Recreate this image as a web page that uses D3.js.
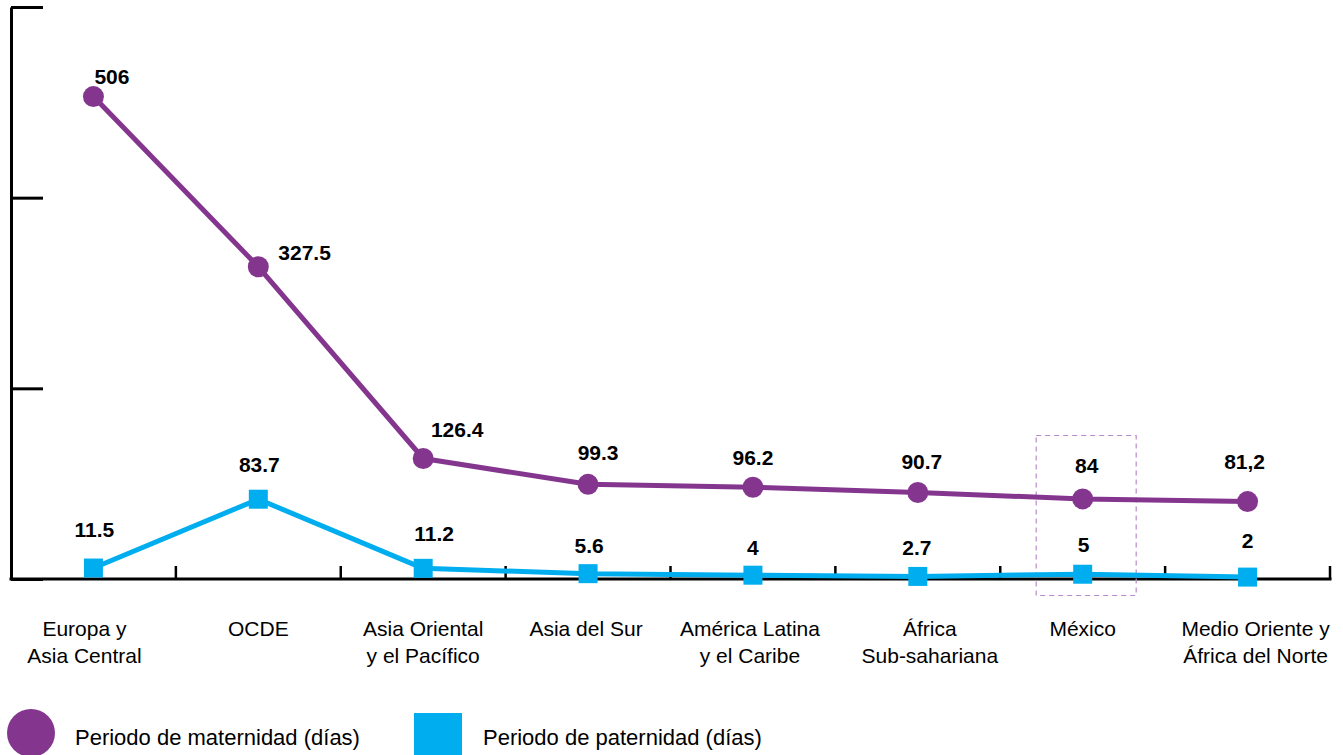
<!DOCTYPE html>
<html lang="es">
<head>
<meta charset="utf-8">
<title>Periodos de maternidad y paternidad por región</title>
<script src="https://cdn.jsdelivr.net/npm/d3@7"></script>
<style>
  html, body { margin: 0; padding: 0; background: #ffffff; }
  svg { display: block; font-family: "Liberation Sans", Arial, Helvetica, sans-serif; }
</style>
</head>
<body>
<svg id="chart" width="1343" height="755"></svg>
<script>
// Regions (each label may wrap onto two lines)
const categories = [
  ["Europa y", "Asia Central"],
  ["OCDE"],
  ["Asia Oriental", "y el Pacífico"],
  ["Asia del Sur"],
  ["América Latina", "y el Caribe"],
  ["África", "Sub-sahariana"],
  ["México"],
  ["Medio Oriente y", "África del Norte"]
];
const categoryKeys = categories.map(c => c.join(" "));

// Leave periods in days
const maternity = [506, 327.5, 126.4, 99.3, 96.2, 90.7, 84, 81.2];
const paternity = [11.5, 83.7, 11.2, 5.6, 4, 2.7, 5, 2];

// Value labels as printed
const maternityLabels = ["506", "327.5", "126.4", "99.3", "96.2", "90.7", "84", "81,2"];
const paternityLabels = ["11.5", "83.7", "11.2", "5.6", "4", "2.7", "5", "2"];

// Y-axis ticks (unlabelled)
const yTicks = [0, 200, 400, 600];

const seriesNames = ["Periodo de maternidad (días)", "Periodo de paternidad (días)"];

// ---- layout ----
const purple = "#84368f";
const blue = "#00aeef";
const plot = { left: 11, right: 1330, top: 7, bottom: 579 };

// label nudges [dx, dy] relative to each point
const matLabelOffset = [[1, -13], [20, -7], [34, -21], [10, -24], [0, -22], [4, -24], [4, -26], [-3, -33]];
const matLabelAnchor = ["start", "start", "middle", "middle", "middle", "middle", "middle", "middle"];
const patLabelOffset = [[1, -31], [1, -27], [11, -27], [1, -21], [0, -20], [-1, -21], [1, -22], [0, -29]];
const catLabelNudge = [-9, 0, 0, -2, -3, 12, 0, 8];

const svg = d3.select("#chart");

const x = d3.scaleBand().domain(categoryKeys).range([plot.left, plot.right]).padding(0);
const y = d3.scaleLinear().domain([0, 600]).range([plot.bottom, plot.top]);
const cx = k => x(k) + x.bandwidth() / 2;

// Y axis: inward ticks, no labels
const yAxis = svg.append("g")
  .attr("transform", `translate(${plot.left},0)`)
  .call(d3.axisRight(y).tickValues(yTicks).tickSize(32).tickSizeOuter(0).tickFormat(""));
yAxis.select(".domain").attr("stroke", "#000").attr("stroke-width", 3);
yAxis.selectAll(".tick line").attr("stroke", "#000").attr("stroke-width", 3);

// X axis baseline and separators between regions
svg.append("line")
  .attr("x1", plot.left - 1.5).attr("x2", plot.right + 1.5)
  .attr("y1", y(0)).attr("y2", y(0))
  .attr("stroke", "#000").attr("stroke-width", 3);

svg.append("g").selectAll("line")
  .data(categoryKeys)
  .join("line")
  .attr("x1", d => x(d) + x.bandwidth())
  .attr("x2", d => x(d) + x.bandwidth())
  .attr("y1", y(0))
  .attr("y2", y(0) - 13)
  .attr("stroke", "#000").attr("stroke-width", 2.5);

// Region labels
const catG = svg.append("g")
  .attr("font-size", 21)
  .attr("fill", "#000")
  .attr("text-anchor", "middle");
categories.forEach((lines, i) => {
  const xi = cx(categoryKeys[i]) + catLabelNudge[i];
  const t = catG.append("text").attr("x", xi).attr("y", 636);
  lines.forEach((ln, j) => {
    t.append("tspan")
      .attr("x", xi)
      .attr("dy", j === 0 ? 0 : 27)
      .text(ln);
  });
});

// Highlight box around México
const mx = categoryKeys[6];
svg.append("rect")
  .attr("x", cx(mx) - 46.5)
  .attr("y", 435.5)
  .attr("width", 100)
  .attr("height", 160)
  .attr("fill", "none")
  .attr("stroke", "#b98acb")
  .attr("stroke-width", 1.2)
  .attr("stroke-dasharray", "5,4");

// Series lines
const line = d3.line().x(d => cx(d.k)).y(d => y(d.v));
const matData = categoryKeys.map((k, i) => ({ k, v: maternity[i], label: maternityLabels[i], off: matLabelOffset[i], anchor: matLabelAnchor[i] }));
const patData = categoryKeys.map((k, i) => ({ k, v: paternity[i], label: paternityLabels[i], off: patLabelOffset[i] }));

svg.append("path")
  .datum(patData)
  .attr("d", line)
  .attr("fill", "none")
  .attr("stroke", blue)
  .attr("stroke-width", 5)
  .attr("stroke-linejoin", "round");

svg.append("g").selectAll("rect")
  .data(patData)
  .join("rect")
  .attr("x", d => cx(d.k) - 9.5)
  .attr("y", d => y(d.v) - 9.5)
  .attr("width", 19)
  .attr("height", 19)
  .attr("fill", blue);

svg.append("path")
  .datum(matData)
  .attr("d", line)
  .attr("fill", "none")
  .attr("stroke", purple)
  .attr("stroke-width", 5)
  .attr("stroke-linejoin", "round");

svg.append("g").selectAll("circle")
  .data(matData)
  .join("circle")
  .attr("cx", d => cx(d.k))
  .attr("cy", d => y(d.v))
  .attr("r", 10.5)
  .attr("fill", purple);

// Value labels
const valG = svg.append("g")
  .attr("font-size", 21)
  .attr("font-weight", "bold")
  .attr("fill", "#000")
  .attr("text-anchor", "middle");

valG.selectAll("text.mat")
  .data(matData)
  .join("text")
  .attr("class", "mat")
  .attr("x", d => cx(d.k) + d.off[0])
  .attr("y", d => y(d.v) + d.off[1])
  .attr("text-anchor", d => d.anchor)
  .text(d => d.label);

valG.selectAll("text.pat")
  .data(patData)
  .join("text")
  .attr("class", "pat")
  .attr("x", d => cx(d.k) + d.off[0])
  .attr("y", d => y(d.v) + d.off[1])
  .text(d => d.label);

// Legend
const legend = svg.append("g").attr("font-size", 22).attr("fill", "#000");
legend.append("circle").attr("cx", 31).attr("cy", 733).attr("r", 24).attr("fill", purple);
legend.append("text").attr("x", 75).attr("y", 745).text(seriesNames[0]);
legend.append("rect").attr("x", 414).attr("y", 713).attr("width", 48).attr("height", 48).attr("fill", blue);
legend.append("text").attr("x", 483).attr("y", 745).text(seriesNames[1]);
</script>
</body>
</html>
